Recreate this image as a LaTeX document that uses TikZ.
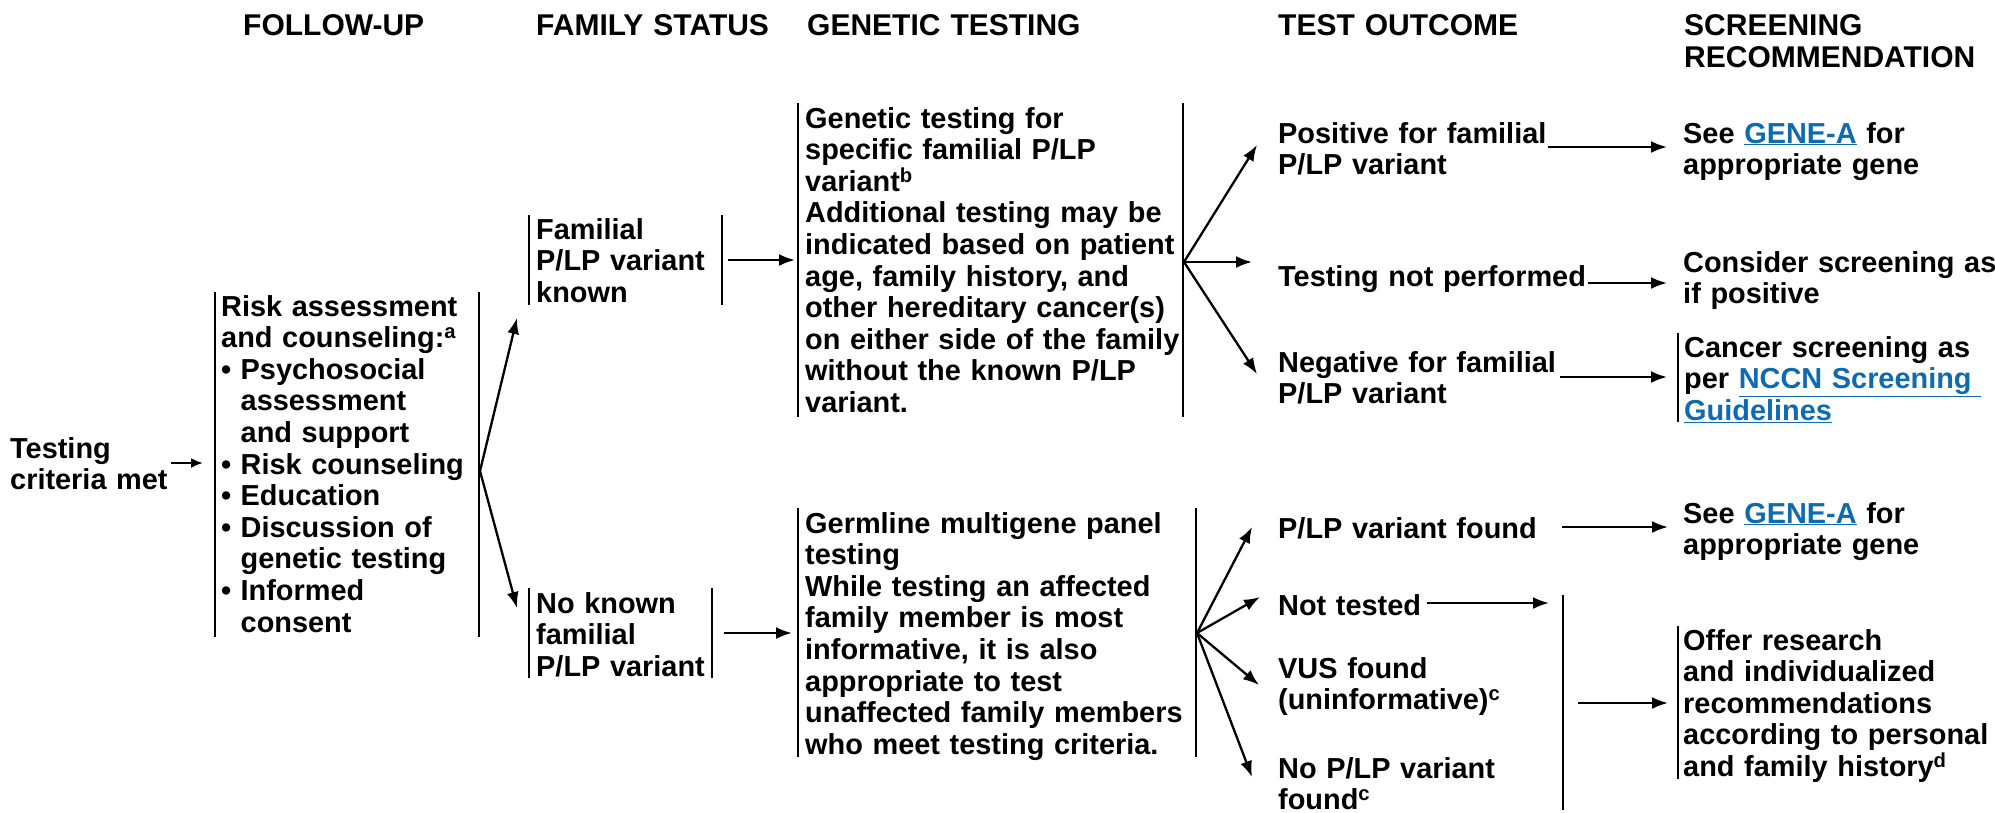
\documentclass[tikz,border=0pt]{standalone}
\usepackage{fontspec}
\setmainfont{Liberation Sans}
\usetikzlibrary{arrows.meta}
\definecolor{linkblue}{HTML}{0E6BB0}
\newcommand{\lnk}[1]{\textcolor{linkblue}{\underline{#1}}}
\newcommand{\bul}{\makebox[19.5pt][l]{•}}
\newcommand{\ind}{\hspace*{19.5pt}}
\hyphenpenalty=10000
\begin{document}
\begin{tikzpicture}[x=1pt,y=-1pt,
  txt/.style={anchor=base west, inner sep=0pt, text width=440pt, align=left,
    font=\bfseries\fontsize{28.9}{31.6}\selectfont},
  rtxt/.style={txt, text width=340pt},
  hdr/.style={txt, font=\bfseries\fontsize{30}{32}\selectfont},
  bar/.style={line width=2.2pt},
  arr/.style={line width=2.3pt, -{Latex[length=16pt,width=12pt]}},
  sarr/.style={line width=2.2pt, -{Latex[length=12pt,width=10pt]}}]
\useasboundingbox (0,0) rectangle (1995,812);

% headers
\node[hdr] (hfu) at (243,35) {FOLLOW-UP};
\node[hdr] (hfs) at (536,35) {FAMILY STATUS};
\node[hdr] (hgt) at (807,35) {GENETIC TESTING};
\node[hdr] (hto) at (1278,35) {TEST OUTCOME};
\node[hdr, text width=340pt] (hsr) at (1684,35) {SCREENING\\RECOMMENDATION};

% text blocks
\node[txt] (crit) at (10,458) {Testing\\criteria met};
\node[txt] (risk) at (221,316) {Risk assessment\\and counseling:\textsuperscript{a}\\\bul Psychosocial\\\ind assessment\\\ind and support\\\bul Risk counseling\\\bul Education\\\bul Discussion of\\\ind genetic testing\\\bul Informed\\\ind consent};
\node[txt] (famk) at (536,239) {Familial\\P/LP variant\\known};
\node[txt] (famn) at (536,613) {No known\\familial\\P/LP variant};
\node[txt] (gtk) at (805,128) {Genetic testing for\\specific familial P/LP\\variant\textsuperscript{b}\\Additional testing may be\\indicated based on patient\\age, family history, and\\other hereditary cancer(s)\\on either side of the family\\without the known P/LP\\variant.};
\node[txt] (gtn) at (805,533) {Germline multigene panel\\testing\\While testing an affected\\family member is most\\informative, it is also\\appropriate to test\\unaffected family members\\who meet testing criteria.};
\node[txt] (pos) at (1278,143) {Positive for familial\\P/LP variant};
\node[txt] (tnp) at (1278,286) {Testing not performed};
\node[txt] (neg) at (1278,372) {Negative for familial\\P/LP variant};
\node[rtxt] (seeA) at (1683,143) {See \lnk{GENE-A} for\\appropriate gene};
\node[rtxt] (cons) at (1683,272) {Consider screening as\\if positive};
\node[rtxt] (canc) at (1684,357) {Cancer screening as\\per \lnk{NCCN Screening\ }\\\lnk{Guidelines}};
\node[txt] (found) at (1278,538) {P/LP variant found};
\node[txt] (nott) at (1278,615) {Not tested};
\node[txt] (vus) at (1278,678) {VUS found\\(uninformative)\textsuperscript{c}};
\node[txt] (nop) at (1278,778) {No P/LP variant\\found\textsuperscript{c}};
\node[rtxt] (seeB) at (1683,523) {See \lnk{GENE-A} for\\appropriate gene};
\node[rtxt] (offer) at (1683,650) {Offer research\\and individualized\\recommendations\\according to personal\\and family history\textsuperscript{d}};

% bars
\draw[bar] (215,292) -- (215,637);
\draw[bar] (479,292) -- (479,637);
\draw[bar] (529,215) -- (529,305);
\draw[bar] (722,215) -- (722,305);
\draw[bar] (529,588) -- (529,678);
\draw[bar] (712,588) -- (712,678);
\draw[bar] (798,103) -- (798,417);
\draw[bar] (1183,103) -- (1183,417);
\draw[bar] (798,508) -- (798,757);
\draw[bar] (1196,508) -- (1196,757);
\draw[bar] (1678,333) -- (1678,422);
\draw[bar] (1563,595) -- (1563,810);
\draw[bar] (1678,626) -- (1678,779);

% connector end points
\coordinate (critE) at (171,463); \coordinate (riskW) at (203,463);
\coordinate (riskFork) at (480,471); \coordinate (famkW) at (517,318); \coordinate (famnW) at (517,608);
\coordinate (famkE) at (728,260); \coordinate (gtkW) at (795,260);
\coordinate (famnE) at (724,633); \coordinate (gtnW) at (792,633);
\coordinate (gtkFork) at (1184,262); \coordinate (posW) at (1257,145);
\coordinate (tnpW) at (1252,262); \coordinate (negW) at (1257,374);
\coordinate (posE) at (1548,147); \coordinate (seeAW) at (1667,147);
\coordinate (tnpE) at (1588,283); \coordinate (consW) at (1667,283);
\coordinate (negE) at (1560,377); \coordinate (cancW) at (1667,377);
\coordinate (gtnFork) at (1197,633); \coordinate (foundW) at (1252,527);
\coordinate (nottW) at (1260,597); \coordinate (vusW) at (1259,685); \coordinate (nopW) at (1252,777);
\coordinate (foundE) at (1562,527); \coordinate (seeBW) at (1668,527);
\coordinate (nottE) at (1427,603); \coordinate (collN) at (1549,603);
\coordinate (collE) at (1578,703); \coordinate (offerW) at (1668,703);

% arrows
\draw[sarr] (critE) -- (riskW);
\draw[arr] (riskFork) -- (famkW);
\draw[arr] (riskFork) -- (famnW);
\draw[arr] (famkE) -- (gtkW);
\draw[arr] (famnE) -- (gtnW);
\draw[arr] (gtkFork) -- (posW);
\draw[arr] (gtkFork) -- (tnpW);
\draw[arr] (gtkFork) -- (negW);
\draw[arr] (posE) -- (seeAW);
\draw[arr] (tnpE) -- (consW);
\draw[arr] (negE) -- (cancW);
\draw[arr] (gtnFork) -- (foundW);
\draw[arr] (gtnFork) -- (nottW);
\draw[arr] (gtnFork) -- (vusW);
\draw[arr] (gtnFork) -- (nopW);
\draw[arr] (foundE) -- (seeBW);
\draw[arr] (nottE) -- (collN);
\draw[arr] (collE) -- (offerW);
\end{tikzpicture}
\end{document}
